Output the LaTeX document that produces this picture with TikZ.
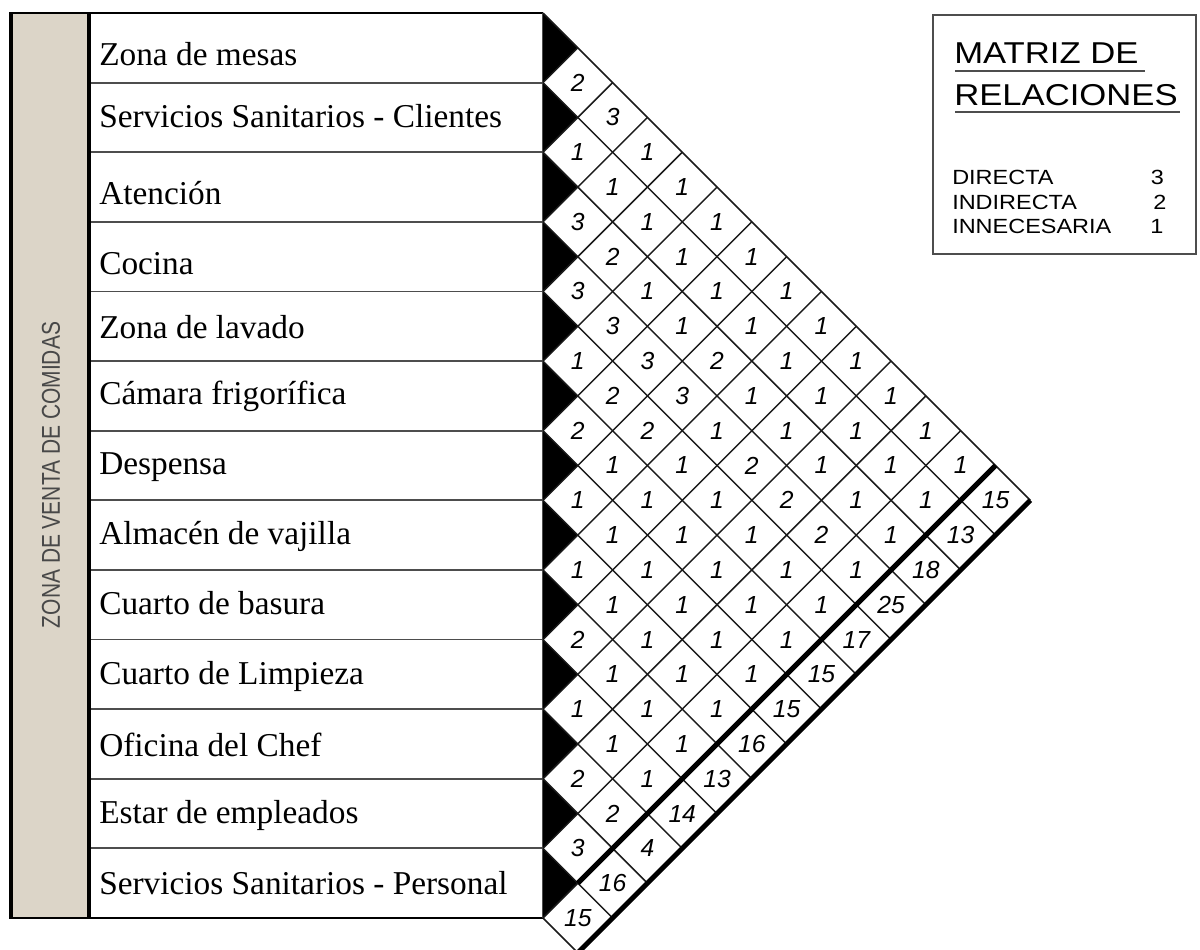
\documentclass[tikz,border=0pt]{standalone}
\usepackage{fontspec}
\setmainfont{Liberation Serif}
\setsansfont{Liberation Sans}
\usepackage{graphicx}
\definecolor{beige}{HTML}{DCD5C8}
\definecolor{rowline}{HTML}{4D4D4D}
\definecolor{gridline}{HTML}{1A1A1A}
\definecolor{labelgray}{HTML}{484848}
\newcommand{\legendtxt}[1]{\scalebox{1}[0.875]{\fontsize{17.6}{20}\selectfont\sffamily #1}}
\newcommand{\titletxt}[1]{\scalebox{1}[0.87]{\fontsize{26}{30}\selectfont\sffamily #1}}
\begin{document}
\begin{tikzpicture}[x=0.75pt,y=-0.75pt,
  rowtext/.style={anchor=base west,inner sep=0pt,font=\fontsize{25}{28}\selectfont},
  val/.style={inner sep=0pt,font=\sffamily\itshape\fontsize{18.5}{20}\selectfont},
  legtext/.style={anchor=base west,inner sep=0pt},
  legnum/.style={anchor=base,inner sep=0pt},
  thingrid/.style={line width=1.1pt,draw=gridline},
  thickgrid/.style={line width=3.8pt,draw=black},
  rowsep/.style={line width=1.4pt,draw=rowline}]
\useasboundingbox (0,0) rectangle (1200,950);
\def\s{34.8077}
\def\xo{543}
\def\yo{13}
% beige column
\fill[beige] (11,13) rectangle (89,918);
% row separators
\foreach \k in {1,...,12}
  \draw[rowsep] (89,{\yo+2*\k*\s}) -- (\xo,{\yo+2*\k*\s});
\draw[line width=1.4pt] (9.5,13) -- (\xo,13);
\draw[line width=1.4pt] (9.5,918) -- (\xo,918);
\draw[rowsep] (\xo,13) -- (\xo,918);
\draw[line width=3.2pt] (11,12.3) -- (11,918.7);
\draw[line width=3.2pt] (89,12.3) -- (89,918.7);
% black triangles
\foreach \k in {0,...,12}
  \fill[black] (\xo,{\yo+2*\k*\s}) -- ++(\s,\s) -- ++(-\s,\s) -- cycle;
% grid
\foreach \k in {0,...,13}
  \draw[thingrid] (\xo,{\yo+2*\k*\s}) -- ++({(14-\k)*\s},{(14-\k)*\s});
\foreach \k in {1,...,13}
  \draw[thingrid] (\xo,{\yo+2*\k*\s}) -- ++({\k*\s},{-\k*\s});
\draw[thickgrid] ({\xo+\s},{\yo+25*\s}) -- ({\xo+13*\s},{\yo+13*\s});
\draw[thickgrid] ({\xo+\s},{\yo+27*\s}) -- ({\xo+14*\s},{\yo+14*\s});
% values
\foreach \i/\j/\v in {1/2/2,1/3/3,1/4/1,1/5/1,1/6/1,1/7/1,1/8/1,1/9/1,1/10/1,1/11/1,1/12/1,1/13/1,1/14/15,
  2/3/1,2/4/1,2/5/1,2/6/1,2/7/1,2/8/1,2/9/1,2/10/1,2/11/1,2/12/1,2/13/1,2/14/13,
  3/4/3,3/5/2,3/6/1,3/7/1,3/8/2,3/9/1,3/10/1,3/11/1,3/12/1,3/13/1,3/14/18,
  4/5/3,4/6/3,4/7/3,4/8/3,4/9/1,4/10/2,4/11/2,4/12/2,4/13/1,4/14/25,
  5/6/1,5/7/2,5/8/2,5/9/1,5/10/1,5/11/1,5/12/1,5/13/1,5/14/17,
  6/7/2,6/8/1,6/9/1,6/10/1,6/11/1,6/12/1,6/13/1,6/14/15,
  7/8/1,7/9/1,7/10/1,7/11/1,7/12/1,7/13/1,7/14/15,
  8/9/1,8/10/1,8/11/1,8/12/1,8/13/1,8/14/16,
  9/10/2,9/11/1,9/12/1,9/13/1,9/14/13,
  10/11/1,10/12/1,10/13/1,10/14/14,
  11/12/2,11/13/2,11/14/4,
  12/13/3,12/14/16,
  13/14/15}
  \node[val] (c\i-\j) at ({\xo+(\j-\i)*\s},{\yo+(\i+\j-1)*\s}) {\v};
% row labels
\foreach \t/\yy [count=\n] in {Zona de mesas/65,Servicios Sanitarios - Clientes/127,Atención/204,Cocina/274,Zona de lavado/338,Cámara frigorífica/404,Despensa/474,Almacén de vajilla/544,Cuarto de basura/614,Cuarto de Limpieza/684,Oficina del Chef/756,Estar de empleados/823,Servicios Sanitarios - Personal/894}
  \node[rowtext] (r\n) at (99,\yy) {\t};
% vertical label
\node[rotate=90,inner sep=0pt,text=labelgray] (zona) at (51,475) {\resizebox{229.5pt}{13.5pt}{\sffamily ZONA DE VENTA DE COMIDAS}};
% legend
\draw[line width=1.2pt,draw=rowline] (933,15) rectangle (1196,254);
\node[legtext] (t1) at (954,63.3) {\titletxt{MATRIZ DE}};
\draw[line width=1.6pt,draw=rowline] (955,71) -- (1145,71);
\node[legtext] (t2) at (954,105) {\titletxt{RELACIONES}};
\draw[line width=1.6pt,draw=rowline] (955,112) -- (1180,112);
\node[legtext] (l1) at (952,184) {\legendtxt{DIRECTA}};
\node[legtext] (l2) at (952,209) {\legendtxt{INDIRECTA}};
\node[legtext] (l3) at (952,233) {\legendtxt{INNECESARIA}};
\node[legnum] (n1) at (1157.5,184) {\legendtxt{3}};
\node[legnum] (n2) at (1160,209) {\legendtxt{2}};
\node[legnum] (n3) at (1157,233) {\legendtxt{1}};
\end{tikzpicture}
\end{document}
